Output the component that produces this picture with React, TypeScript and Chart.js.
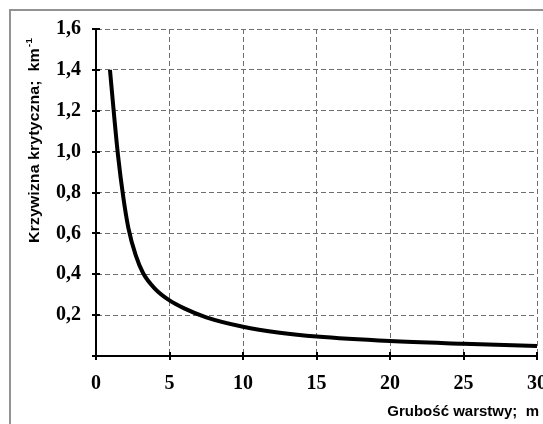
import React, { useEffect, useRef } from "react";
import { Chart, registerables } from "chart.js";

Chart.register(...registerables);

// ---- data ----
const THICKNESS_M = [0.95, 1.24, 1.5, 1.85, 2.2, 2.7, 3.2, 4.0, 5, 6, 7.5, 10, 12.5, 15, 20, 25, 30];
const CRITICAL_CURVATURE = [1.4, 1.17, 0.98, 0.78, 0.627, 0.493, 0.406, 0.33, 0.272, 0.233, 0.189, 0.143, 0.114, 0.095, 0.073, 0.06, 0.049];
const X_TICK_LABELS = ["0", "5", "10", "15", "20", "25", "30"];
const Y_TICK_LABELS = ["", "0,2", "0,4", "0,6", "0,8", "1,0", "1,2", "1,4", "1,6"];
const X_TITLE = "Grubość warstwy;  m";
const Y_TITLE = "Krzywizna krytyczna;  km";
const Y_TITLE_SUP = "-1";

const W = 543;
const H = 424;

const tickFont = { family: "'Liberation Serif', 'Times New Roman', serif", weight: "bold" as const, size: 20 };
const titleFamily = "'Liberation Sans', Arial, sans-serif";

const decorPlugin = {
  id: "decor",
  afterDraw(chart: any) {
    const { ctx } = chart;
    const xs = chart.scales.x;
    const ys = chart.scales.y;
    ctx.save();
    // outer frame (left + top)
    ctx.strokeStyle = "#929292";
    ctx.lineWidth = 2;
    ctx.beginPath();
    ctx.moveTo(10, H);
    ctx.lineTo(10, 10);
    ctx.lineTo(W, 10);
    ctx.stroke();

    // crossing tick marks
    const x0 = xs.getPixelForValue(0);
    const y0 = ys.getPixelForValue(0);
    ctx.strokeStyle = "#000";
    ctx.lineWidth = 2;
    ctx.beginPath();
    ys.ticks.forEach((t: any) => {
      const py = Math.round(ys.getPixelForValue(t.value));
      ctx.moveTo(x0 - 4, py);
      ctx.lineTo(x0 + 4, py);
    });
    xs.ticks.forEach((t: any) => {
      const px = Math.round(xs.getPixelForValue(t.value));
      ctx.moveTo(px, y0 - 4);
      ctx.lineTo(px, y0 + 4);
    });
    ctx.stroke();

    // x title
    ctx.fillStyle = "#000";
    ctx.font = `bold 15px ${titleFamily}`;
    ctx.textAlign = "right";
    ctx.textBaseline = "middle";
    ctx.fillText(X_TITLE, 539, 412);

    // y title (rotated)
    ctx.save();
    ctx.translate(35, 140.5);
    ctx.rotate(-Math.PI / 2);
    ctx.font = `bold 14px ${titleFamily}`;
    const w1 = ctx.measureText(Y_TITLE).width;
    ctx.font = `bold 9px ${titleFamily}`;
    const w2 = ctx.measureText(Y_TITLE_SUP).width;
    const total = w1 + w2 + 1;
    const sx = 205 / total;
    ctx.scale(sx, 1);
    ctx.textAlign = "left";
    ctx.textBaseline = "middle";
    ctx.font = `bold 14px ${titleFamily}`;
    ctx.fillText(Y_TITLE, -total / 2, 0);
    ctx.font = `bold 9px ${titleFamily}`;
    ctx.fillText(Y_TITLE_SUP, -total / 2 + w1 + 1, -5);
    ctx.restore();

    ctx.restore();
  },
};

export default function App() {
  const ref = useRef<HTMLCanvasElement | null>(null);
  useEffect(() => {
    if (!ref.current) return;
    const points = THICKNESS_M.map((x, i) => ({ x, y: CRITICAL_CURVATURE[i] }));
    const chart = new Chart(ref.current, {
      type: "line",
      data: {
        datasets: [
          {
            data: points,
            borderColor: "#000",
            borderWidth: 4,
            pointRadius: 0,
            fill: false,
            cubicInterpolationMode: "monotone",
          },
        ],
      },
      options: {
        animation: false,
        responsive: false,
        devicePixelRatio: 1,
        layout: { padding: { left: 0, right: 6, top: 29, bottom: 0 } },
        plugins: { legend: { display: false }, tooltip: { enabled: false }, title: { display: false } },
        scales: {
          x: {
            type: "linear",
            min: 0,
            max: 30,
            ticks: {
              stepSize: 5,
              font: tickFont,
              color: "#000",
              padding: 16,
              maxRotation: 0,
              autoSkip: false,
              callback: (_v: any, i: number) => X_TICK_LABELS[i],
            },
            grid: { color: "#6e6e6e", lineWidth: 1, drawTicks: false },
            border: { display: true, color: "#000", width: 2, dash: [5, 3] },
            afterFit: (s: any) => {
              s.height = 68;
              s.paddingLeft = 0;
              s.paddingRight = 0;
            },
          },
          y: {
            type: "linear",
            min: 0,
            max: 1.6,
            ticks: {
              stepSize: 0.2,
              font: tickFont,
              color: "#000",
              padding: 15,
              autoSkip: false,
              callback: (_v: any, i: number) => Y_TICK_LABELS[i],
            },
            grid: { color: "#6e6e6e", lineWidth: 1, drawTicks: false },
            border: { display: true, color: "#000", width: 2, dash: [5, 3] },
            afterFit: (s: any) => {
              s.width = 96;
              s.paddingTop = 0;
              s.paddingBottom = 0;
            },
          },
        },
      },
      plugins: [decorPlugin],
    } as any);
    return () => chart.destroy();
  }, []);
  return (
    <div style={{ position: "absolute", left: 0, top: 0, width: W, height: H, background: "#fff" }}>
      <canvas ref={ref} width={W} height={H} style={{ display: "block", width: W, height: H }} />
    </div>
  );
}
